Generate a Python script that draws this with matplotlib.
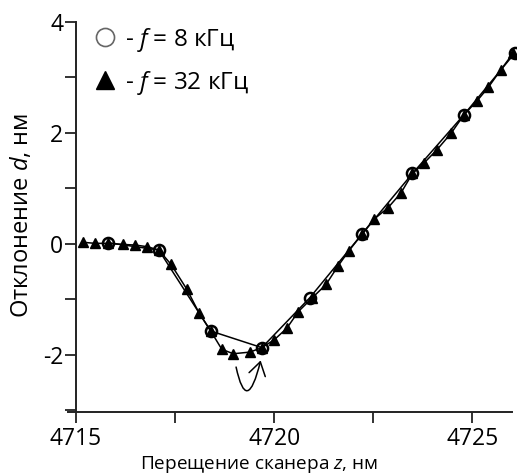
import matplotlib
matplotlib.use("Agg")
import matplotlib.pyplot as plt
from matplotlib.lines import Line2D
from matplotlib.patches import FancyArrowPatch
from matplotlib.path import Path

plt.rcParams["font.family"] = ["Open Sans", "DejaVu Sans"]
plt.rcParams["mathtext.fontset"] = "custom"
plt.rcParams["mathtext.it"] = "Open Sans:italic"
plt.rcParams["mathtext.rm"] = "Open Sans"

# f = 8 kHz (circles)
z_8 = [4715.82, 4717.09, 4718.40, 4719.69, 4720.90, 4722.21, 4723.49, 4724.79, 4726.07]
d_8 = [0.02, -0.11, -1.57, -1.87, -0.97, 0.17, 1.27, 2.33, 3.44]

# f = 32 kHz (triangles)
z_32 = [4715.17, 4715.48, 4715.82, 4716.19, 4716.49, 4716.80, 4717.09, 4717.40,
        4717.80, 4718.11, 4718.40, 4718.68, 4718.97, 4719.39, 4719.69, 4720.00,
        4720.32, 4720.61, 4720.95, 4721.31, 4721.61, 4721.89, 4722.21, 4722.51,
        4722.87, 4723.20, 4723.49, 4723.77, 4724.11, 4724.47, 4724.79, 4725.12,
        4725.40, 4725.71, 4726.03]
d_32 = [0.03, 0.01, 0.01, -0.01, -0.02, -0.05, -0.11, -0.37,
        -0.82, -1.25, -1.57, -1.90, -1.98, -1.95, -1.87, -1.73,
        -1.52, -1.22, -0.98, -0.73, -0.40, -0.12, 0.17, 0.44,
        0.65, 0.92, 1.27, 1.45, 1.70, 2.00, 2.33, 2.58,
        2.82, 3.13, 3.44]

x_major = [4715, 4720, 4725]
x_minor = [4717.5, 4722.5]
y_major = [-2, 0, 2, 4]
y_minor = [-3, -1, 1, 3]

fig = plt.figure(figsize=(5.17, 4.75), dpi=100)
ax = fig.add_axes([68 / 517, 1 - 412 / 475, 444 / 517, 390 / 475])

ax.plot(z_32, d_32, color="black", lw=1.1, marker="^", ms=7,
        mfc="black", mec="black", clip_on=False, zorder=3)
ax.plot(z_8, d_8, color="black", lw=1.1, marker="o", ms=8,
        mfc="none", mec="black", mew=1.8, clip_on=False, zorder=4)

# curved arrow pointing to the minimum
hook = Path([(4719.04, -2.22), (4719.31, -3.12), (4719.66, -2.10)],
            [Path.MOVETO, Path.CURVE3, Path.CURVE3])
ax.add_patch(FancyArrowPatch(path=hook, arrowstyle="->,head_length=0.95,head_width=0.6",
                             mutation_scale=10, lw=1.1, color="black",
                             transform=ax.transData, clip_on=False))

ax.set_xlim(4714.8, 4726.0)
ax.set_ylim(-3.03, 4.0)

for s in ["top", "right"]:
    ax.spines[s].set_visible(False)
ax.spines["left"].set_position(("data", 4715))
for s in ["left", "bottom"]:
    ax.spines[s].set_color("#222222")
    ax.spines[s].set_linewidth(1.4)

ax.set_xticks(x_major)
ax.set_xticks(x_minor, minor=True)
ax.set_yticks(y_major)
ax.set_yticklabels(["-2", "0", "2", "4"])
ax.set_yticks(y_minor, minor=True)
ax.tick_params(which="both", direction="out", length=8, width=1.3,
               color="#222222", labelsize=16.5)
ax.tick_params(axis="y", pad=1)
ax.tick_params(axis="x", pad=3)

ax.set_xlabel(r"Перещение сканера $z$, нм", fontsize=13.7, va="center")
ax.set_ylabel(r"Отклонение $d$, нм", fontsize=17, va="center")
ax.xaxis.set_label_coords(0.43, -0.135)
ax.yaxis.set_label_coords(-0.105, 0.503)

handles = [
    Line2D([], [], ls="none", marker="o", ms=13, mfc="none", mec="#666666", mew=1.2),
    Line2D([], [], ls="none", marker="^", ms=13, mfc="black", mec="black"),
]
labels = [r"- $f$ = 8 кГц", r"- $f$ = 32 кГц"]
ax.legend(handles, labels, loc="upper left", bbox_to_anchor=(0.035, 1.015),
          frameon=False, fontsize=17.5, handlelength=1.0, handletextpad=0.3,
          labelspacing=0.62, borderaxespad=0)

fig.savefig("out.png", dpi=100)
